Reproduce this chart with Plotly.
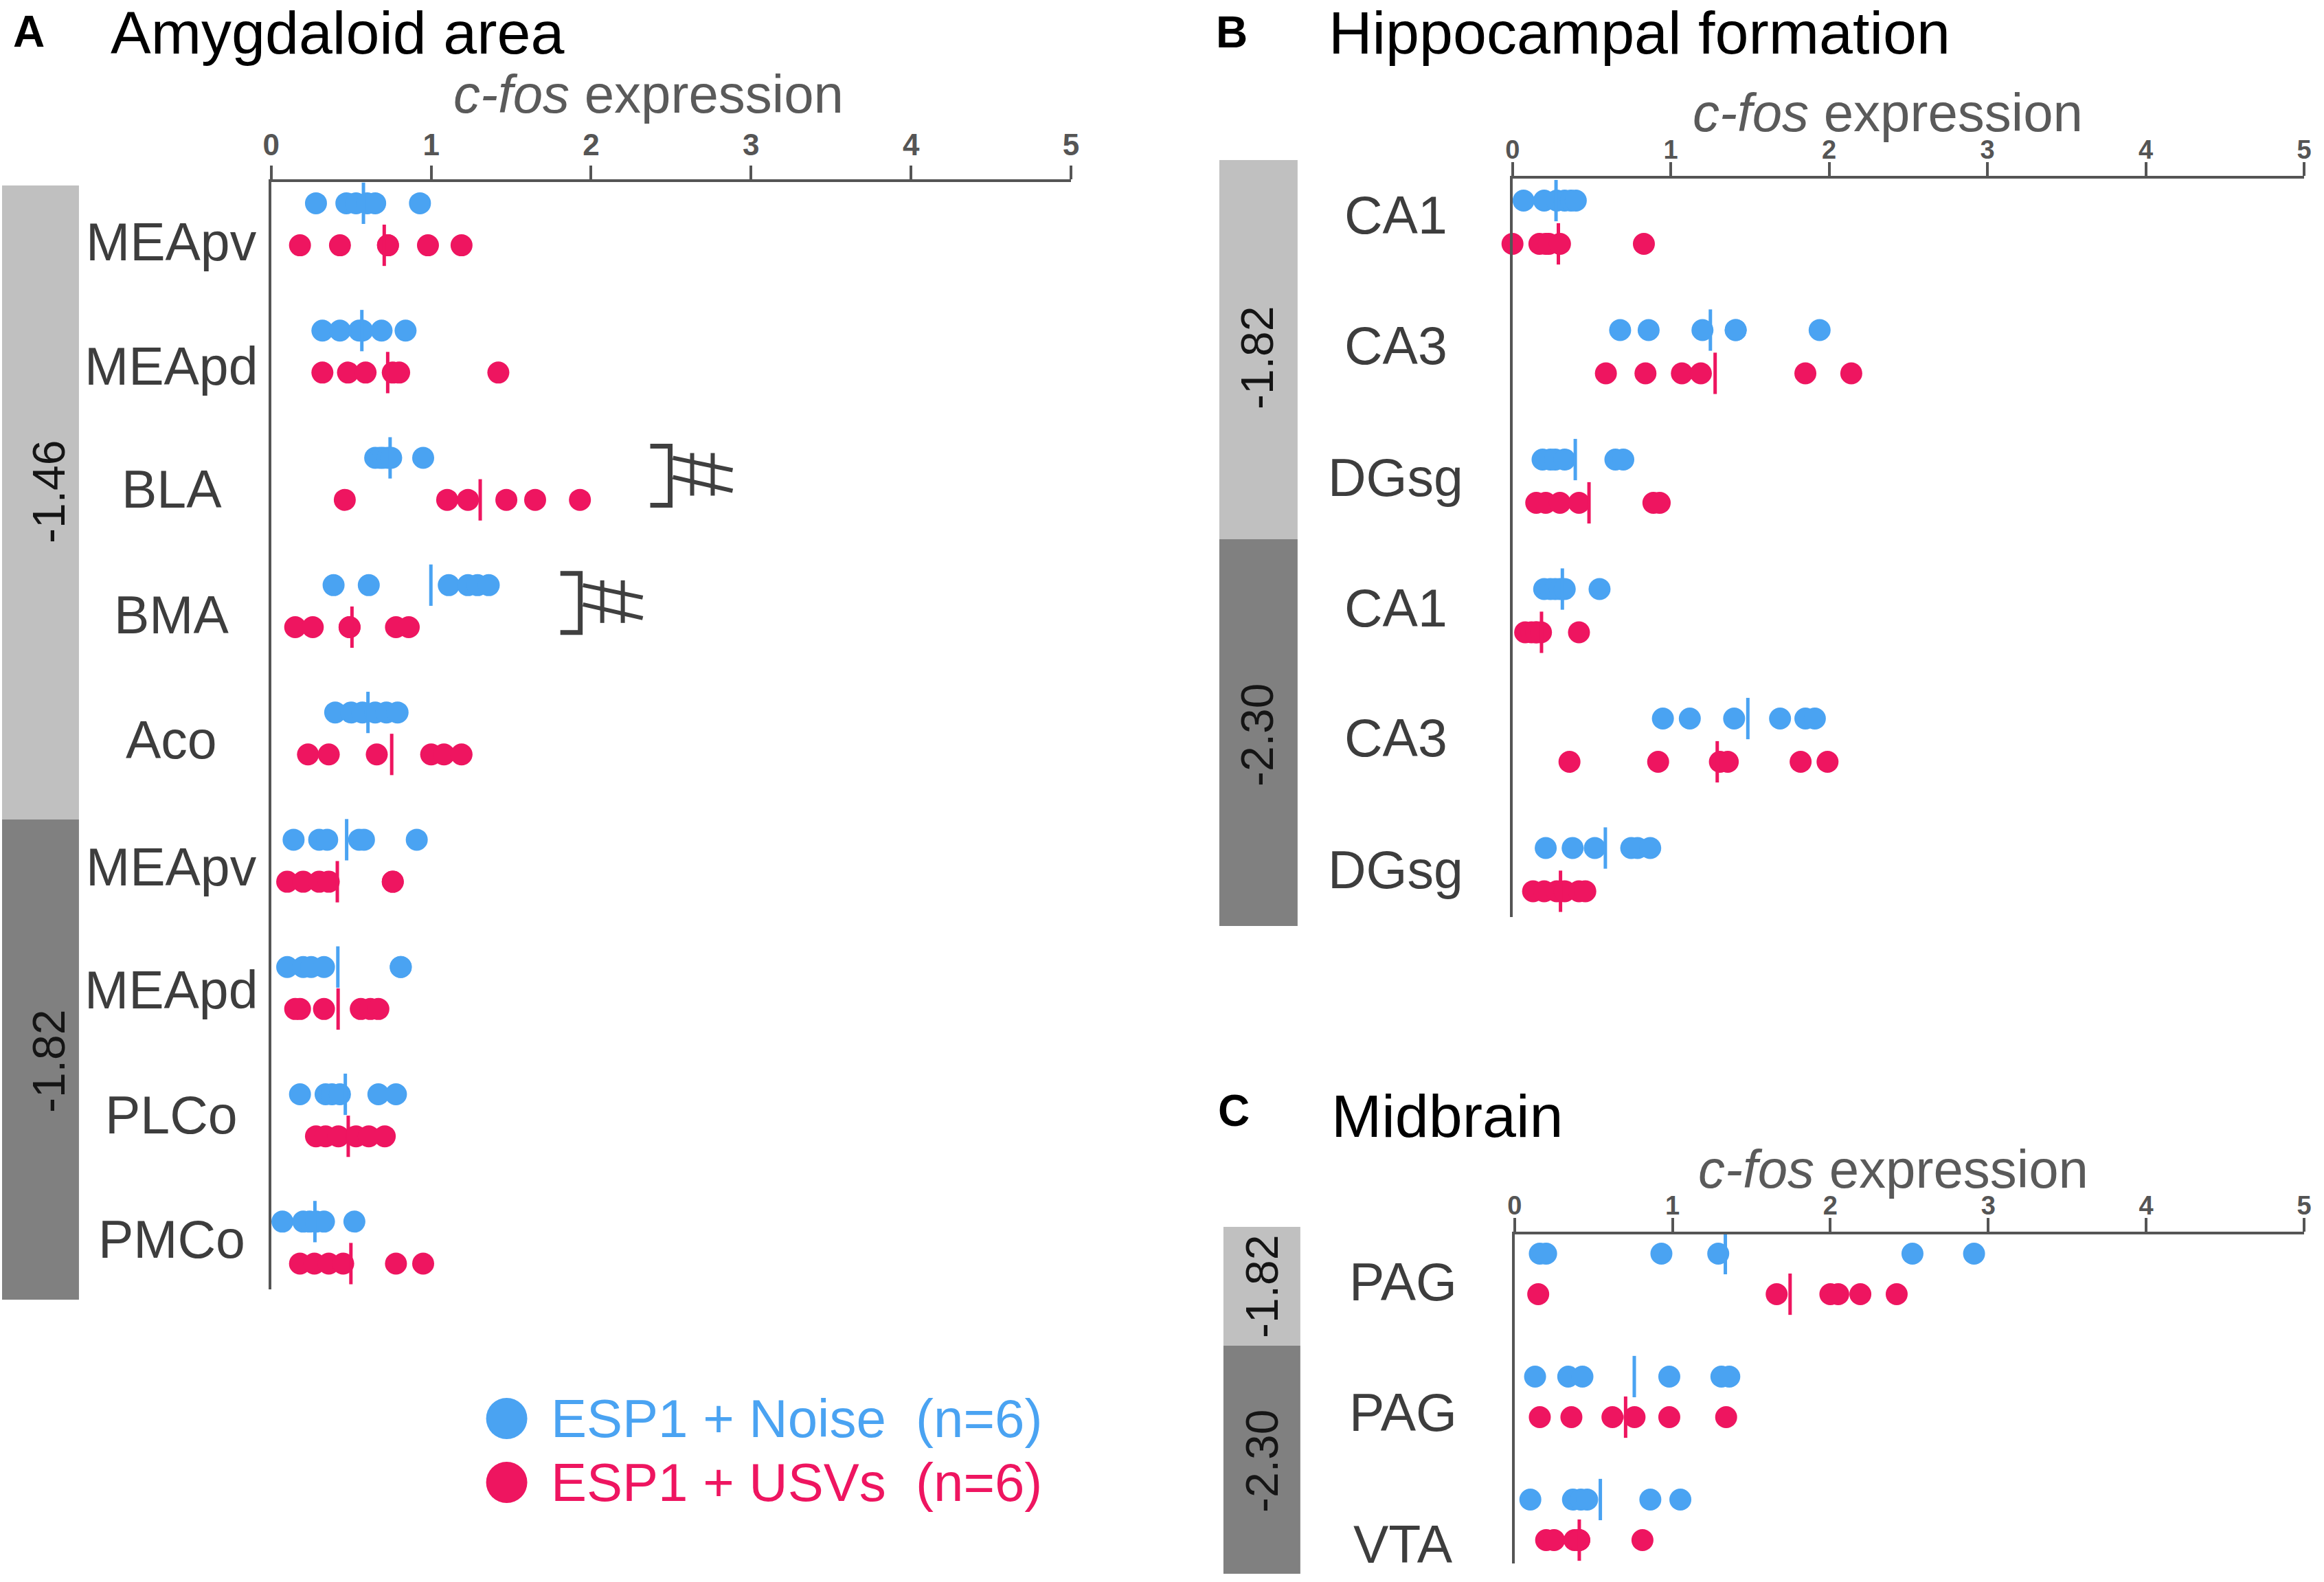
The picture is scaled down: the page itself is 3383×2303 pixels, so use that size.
import numpy as np
import plotly.graph_objects as go

# ---------------- data ----------------
A_cats = ["MEApv", "MEApd", "BLA", "BMA", "Aco", "MEApv", "MEApd", "PLCo", "PMCo"]
A_noise = [
    [0.28, 0.47, 0.53, 0.60, 0.65, 0.93],
    [0.32, 0.43, 0.55, 0.57, 0.69, 0.84],
    [0.65, 0.68, 0.70, 0.73, 0.75, 0.95],
    [0.39, 0.61, 1.11, 1.23, 1.29, 1.36],
    [0.40, 0.50, 0.57, 0.65, 0.72, 0.79],
    [0.14, 0.30, 0.35, 0.55, 0.58, 0.91],
    [0.10, 0.20, 0.25, 0.33, 0.81, 0.81],
    [0.18, 0.34, 0.38, 0.43, 0.67, 0.78],
    [0.07, 0.20, 0.24, 0.28, 0.33, 0.52],
]
A_usv = [
    [0.18, 0.43, 0.73, 0.73, 0.98, 1.19],
    [0.32, 0.48, 0.59, 0.76, 0.80, 1.42],
    [0.46, 1.10, 1.23, 1.47, 1.65, 1.93],
    [0.15, 0.26, 0.49, 0.49, 0.78, 0.86],
    [0.23, 0.36, 0.66, 1.00, 1.08, 1.19],
    [0.10, 0.20, 0.30, 0.36, 0.76, 0.76],
    [0.15, 0.18, 0.33, 0.56, 0.62, 0.67],
    [0.28, 0.34, 0.42, 0.53, 0.61, 0.71],
    [0.18, 0.27, 0.36, 0.45, 0.78, 0.95],
]
A_sections = ["-1.46", "-1.82"]

B_cats = ["CA1", "CA3", "DGsg", "CA1", "CA3", "DGsg"]
B_noise = [
    [0.07, 0.20, 0.28, 0.33, 0.37, 0.40],
    [0.68, 0.86, 1.20, 1.41, 1.41, 1.94],
    [0.19, 0.24, 0.27, 0.33, 0.65, 0.70],
    [0.20, 0.24, 0.27, 0.30, 0.33, 0.55],
    [0.95, 1.12, 1.40, 1.69, 1.85, 1.91],
    [0.21, 0.38, 0.52, 0.75, 0.79, 0.87],
]
B_usv = [
    [0.00, 0.17, 0.21, 0.23, 0.30, 0.83],
    [0.59, 0.84, 1.07, 1.19, 1.85, 2.14],
    [0.15, 0.21, 0.30, 0.42, 0.89, 0.93],
    [0.08, 0.12, 0.15, 0.15, 0.18, 0.42],
    [0.36, 0.92, 1.31, 1.36, 1.82, 1.99],
    [0.13, 0.20, 0.28, 0.33, 0.42, 0.46],
]
B_sections = ["-1.82", "-2.30"]

C_cats = ["PAG", "PAG", "VTA"]
C_noise = [
    [0.16, 0.20, 0.93, 1.29, 2.52, 2.91],
    [0.13, 0.34, 0.43, 0.98, 1.31, 1.36],
    [0.10, 0.37, 0.42, 0.46, 0.86, 1.05],
]
C_usv = [
    [0.15, 1.66, 2.00, 2.05, 2.19, 2.42],
    [0.16, 0.36, 0.62, 0.76, 0.98, 1.34],
    [0.20, 0.25, 0.38, 0.41, 0.41, 0.81],
]
C_sections = ["-1.82", "-2.30"]

x_ticks = [0, 1, 2, 3, 4, 5]
groups = ["ESP1 + Noise\u00a0\u00a0(n=6)", "ESP1 + USVs\u00a0\u00a0(n=6)"]
sig_A = ["BLA", "BMA"]          # categories (first section) marked with ##

# ---------------- layout helpers ----------------
W, H = 3383, 2303
BLUE = "#4aa3f2"
RED = "#ee1560"
AX = "#555555"
LBL = "#3d3d3d"
FONT = "Liberation Sans, Arial, sans-serif"


def fx(p):
    # horizontal page position (reference px) -> paper fraction,
    # compensating the small horizontal offset/scale seen in the rendered page
    return ((p - 12) / 0.9935) / W


def fy(p):
    return 1 - p / H


panels = [
    dict(cats=A_cats, noise=A_noise, usv=A_usv, secs=A_sections,
         x0=395, x5=1560, top=265, bottom=1877, c0=326.5, step=185.3, d=0.165,
         lab_y=[352, 533, 712, 895, 1077, 1262, 1441, 1623, 1804], lab_x=250,
         tick=44, stand=-3,
         bands=[(3, 115, 270, 1193, "#c0c0c0"), (3, 115, 1193, 1892, "#808080")],
         band_lab=[(71, 716), (71, 1545)],
         letter=("A", 42, 46), title=("Amygdaloid area", 160, 48),
         cfos=(945, 137)),
    dict(cats=B_cats, noise=B_noise, usv=B_usv, secs=B_sections,
         x0=2203, x5=3356, top=260, bottom=1335, c0=323.5, step=188.5, d=0.167,
         lab_y=[313, 503, 695, 885, 1074, 1266], lab_x=2033,
         tick=38, stand=-10,
         bands=[(1776, 1890, 233, 785, "#c0c0c0"), (1776, 1890, 785, 1348, "#808080")],
         band_lab=[(1831, 521), (1831, 1070)],
         letter=("B", 1794, 47), title=("Hippocampal formation", 1934, 48),
         cfos=(2750, 164)),
    dict(cats=C_cats, noise=C_noise, usv=C_usv, secs=C_sections,
         x0=2206, x5=3356, top=1797, bottom=2276, c0=1854.5, step=179, d=0.165,
         lab_y=[1866, 2056, 2248], lab_x=2044,
         tick=38, stand=-10,
         bands=[(1782, 1894, 1786, 1959, "#c0c0c0"), (1782, 1894, 1959, 2291, "#808080")],
         band_lab=[(1838, 1873), (1838, 2127)],
         letter=("C", 1797, 1617), title=("Midbrain", 1938, 1624),
         cfos=(2758, 1702)),
]

fig = go.Figure()
shapes = []
annotations = []

for k, p in enumerate(panels, start=1):
    xa = "x" if k == 1 else f"x{k}"
    ya = "y" if k == 1 else f"y{k}"
    d = p["d"]
    # dots and mean ticks
    for vals, col in ((p["noise"], BLUE), (p["usv"], RED)):
        off = -d if col == BLUE else d
        xs, ys = [], []
        for j, v in enumerate(vals):
            xs += list(v)
            ys += [j + off] * len(v)
        fig.add_trace(go.Scatter(x=xs, y=ys, mode="markers", xaxis=xa, yaxis=ya,
                                 marker=dict(size=32, color=col, line=dict(width=0)),
                                 cliponaxis=False, hoverinfo="x"))
        fig.add_trace(go.Scatter(x=[float(np.mean(v)) for v in vals],
                                 y=[j + off for j in range(len(vals))],
                                 mode="markers", xaxis=xa, yaxis=ya, cliponaxis=False,
                                 marker=dict(symbol="line-ns", size=43,
                                             line=dict(width=5, color=col)),
                                 hoverinfo="x"))
    # axes
    ytop = (p["top"] - p["c0"]) / p["step"]
    ybot = (p["bottom"] - p["c0"]) / p["step"]
    xaxis = dict(domain=[fx(p["x0"]), fx(p["x5"])], range=[0, 5], side="top",
                 anchor=ya, tickvals=x_ticks, ticktext=[f"<b>{t}</b>" for t in x_ticks],
                 ticks="outside", ticklen=20,
                 tickwidth=4, tickcolor=AX, showline=True, linewidth=4, linecolor=AX,
                 showgrid=False, zeroline=False, ticklabelstandoff=p["stand"],
                 tickfont=dict(family=FONT, size=p["tick"], color=AX))
    yaxis = dict(domain=[fy(p["bottom"]), fy(p["top"])], range=[ybot, ytop],
                 anchor=xa, showline=True, linewidth=4, linecolor=AX,
                 showticklabels=False, ticks="", showgrid=False, zeroline=False)
    fig.update_layout({("xaxis" if k == 1 else f"xaxis{k}"): xaxis,
                       ("yaxis" if k == 1 else f"yaxis{k}"): yaxis})
    # category labels
    for c, ly in zip(p["cats"], p["lab_y"]):
        annotations.append(dict(x=fx(p["lab_x"]), xref="paper", y=fy(ly), yref="paper",
                                text=c, showarrow=False, xanchor="center", yanchor="middle",
                                font=dict(family=FONT, size=77, color=LBL)))
    # section bands
    for (bx0, bx1, by0, by1, colr), (lx, ly), s in zip(p["bands"], p["band_lab"], p["secs"]):
        shapes.append(dict(type="rect", xref="paper", yref="paper",
                           x0=fx(bx0), x1=fx(bx1), y0=fy(by1), y1=fy(by0),
                           fillcolor=colr, line=dict(width=0), layer="below"))
        annotations.append(dict(x=fx(lx), y=fy(ly), xref="paper", yref="paper", text=s,
                                textangle=-90, showarrow=False, xanchor="center",
                                yanchor="middle", font=dict(family=FONT, size=66, color="#151515")))
    # letters and titles
    L, lx, ly = p["letter"]
    annotations.append(dict(x=fx(lx), y=fy(ly), xref="paper", yref="paper", text=f"<b>{L}</b>",
                            showarrow=False, xanchor="center", yanchor="middle",
                            font=dict(family=FONT, size=64, color="#000000")))
    T, tx, ty = p["title"]
    annotations.append(dict(x=fx(tx), y=fy(ty), xref="paper", yref="paper", text=T,
                            showarrow=False, xanchor="left", yanchor="middle", borderpad=0,
                            font=dict(family=FONT, size=88, color="#000000")))
    cx, cy = p["cfos"]
    annotations.append(dict(x=fx(cx), y=fy(cy), xref="paper", yref="paper",
                            text="<i>c-fos</i> expression", showarrow=False,
                            xanchor="center", yanchor="middle",
                            font=dict(family=FONT, size=78, color="#5a5a5a")))

# significance marks (panel A)  -- glyph drawn in axis units
pA = panels[0]
ux = (pA["x5"] - pA["x0"]) / 5.0
uy = pA["step"]
sig_x = {"BLA": 2.494, "BMA": 1.932}
for name in sig_A:
    j = A_cats.index(name)
    xb = sig_x[name]
    yb = j - pA["d"]          # blue row of category

    def X(dpx):
        return xb + dpx / ux

    def Y(dpx):
        return yb + dpx / uy
    shapes.append(dict(type="path", xref="x", yref="y",
                       path=f"M{X(-29)},{Y(-17)} L{X(0)},{Y(-17)} L{X(0)},{Y(69)} L{X(-29)},{Y(69)}",
                       line=dict(color="#404040", width=7)))
    for dv in (32, 62):
        shapes.append(dict(type="line", xref="x", yref="y", x0=X(dv), x1=X(dv),
                           y0=Y(-7), y1=Y(55), line=dict(color="#404040", width=6)))
    for y0, y1 in ((0, 18), (28, 48)):
        shapes.append(dict(type="line", xref="x", yref="y", x0=X(4), x1=X(91),
                           y0=Y(y0), y1=Y(y1), line=dict(color="#404040", width=6)))

# legend
for (txt, col, cy) in ((groups[0], BLUE, 2065), (groups[1], RED, 2158)):
    shapes.append(dict(type="circle", xref="paper", yref="paper",
                       x0=fx(708), x1=fx(768), y0=fy(cy + 30), y1=fy(cy - 30),
                       fillcolor=col, line=dict(width=0)))
    annotations.append(dict(x=fx(800), y=fy(cy), xref="paper", yref="paper", text=txt,
                            showarrow=False, xanchor="left", yanchor="middle",
                            font=dict(family=FONT, size=78, color=col)))

fig.update_layout(width=W, height=H, margin=dict(l=0, r=0, t=0, b=0),
                  paper_bgcolor="white", plot_bgcolor="white", showlegend=False,
                  shapes=shapes, annotations=annotations)

fig.write_html("out.html", config={"displayModeBar": False},
               post_script="document.body.style.margin='0';"
                           "document.body.style.overflow='hidden';"
                           "document.documentElement.style.overflow='hidden';")
